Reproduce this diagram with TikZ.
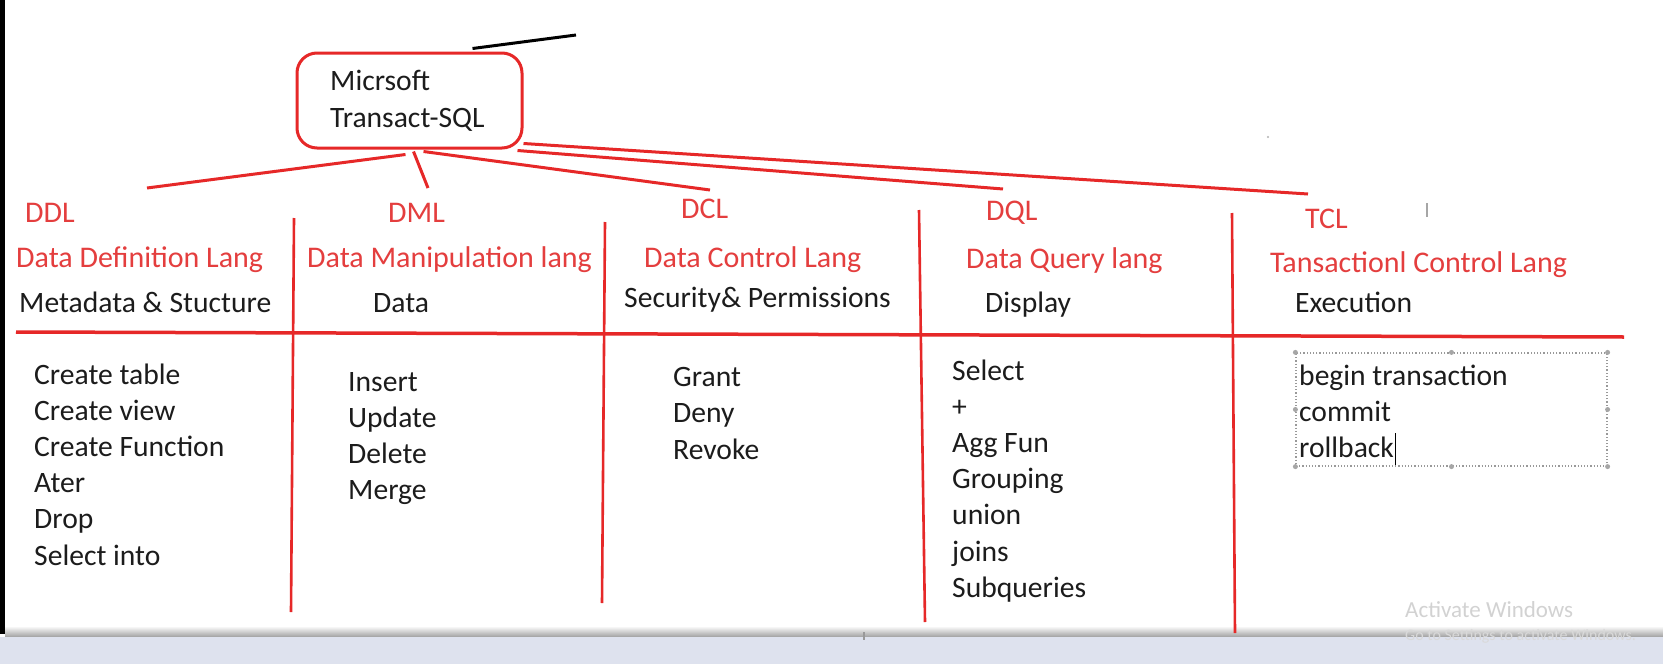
\documentclass[tikz,border=0pt]{standalone}
\usepackage{fontspec}
\setmainfont{Carlito}
\usetikzlibrary{calc}
\definecolor{lred}{RGB}{230,40,40}
\definecolor{tred}{RGB}{228,62,62}
\definecolor{tblk}{RGB}{28,28,28}
\definecolor{bandc}{RGB}{222,226,238}
\begin{document}
\begin{tikzpicture}[x=1pt,y=-1pt,
  redline/.style={draw=lred,line width=3pt},
  colline/.style={draw=lred,line width=2.6pt},
  hdr/.style={anchor=base west,inner sep=0pt,text=tred,font=\fontsize{30}{36}\selectfont},
  item/.style={anchor=base west,inner sep=0pt,text=tblk,font=\fontsize{29.6}{36}\selectfont},
  handle/.style={circle,fill=gray!70,inner sep=0pt,minimum size=5pt}]
\useasboundingbox (0,0) rectangle (1663,664);
\fill[white] (0,0) rectangle (1663,664);
% screen frame
\fill[black] (0,0) rectangle (5,634);
\shade[top color=white,bottom color=gray!75] (5,626) rectangle (1663,637);
\fill[bandc] (0,637) rectangle (1663,664);
\fill[gray!80] (863,632) rectangle (865,640);

% root
\node[draw=lred,line width=3pt,rounded corners=20pt,minimum width=225pt,minimum height=95pt,inner sep=0pt] (root) at (409.5,100.5) {};
\node[item] (rootA) at (330,90) {Micrsoft};
\node[item] (rootB) at (330,127) {Transact-SQL};
\coordinate (blk) at (576,35);
\draw[black,line width=3pt] ($(root.north)+(63,-3)$) -- (blk);

% branch ends
\coordinate (eDDL) at (147,188);
\coordinate (eDML) at (428,188);
\coordinate (eDCL) at (710,190);
\coordinate (eDQL) at (1003,189);
\coordinate (eTCL) at (1308,194);
\draw[redline] ($(root.south)+(-4,5)$) -- (eDDL);
\draw[redline] ($(root.south)+(4,2)$) -- (eDML);
\draw[redline] ($(root.south)+(14,2)$) -- (eDCL);
\draw[redline] ($(root.south east)+(-6,1)$) -- (eDQL);
\draw[redline] ($(root.south east)+(0,-6)$) -- (eTCL);

% header row
\node[hdr] (ddl) at (25,222) {DDL};
\node[hdr] (ddlN) at (16,267) {Data Definition Lang};
\node[item] (ddlD) at (19,312) {Metadata \& Stucture};
\node[hdr] (dml) at (388,222) {DML};
\node[hdr] (dmlN) at (307,267) {Data Manipulation lang};
\node[item] (dmlD) at (373,312) {Data};
\node[hdr] (dcl) at (681,218) {DCL};
\node[hdr] (dclN) at (644,267) {Data Control Lang};
\node[item] (dclD) at (624,307) {Security\& Permissions};
\node[hdr] (dql) at (986,220) {DQL};
\node[hdr] (dqlN) at (966,268) {Data Query lang};
\node[item] (dqlD) at (985,312) {Display};
\node[hdr] (tcl) at (1305,228) {TCL};
\node[hdr] (tclN) at (1270,272) {Tansactionl Control Lang};
\node[item] (tclD) at (1295,312) {Execution};

% grid lines
\coordinate (hL) at (16,332);
\coordinate (hR) at (1624,337);
\draw[draw=lred,line width=3.5pt] (hL) -- (hR);
\coordinate (v1t) at (294,218); \coordinate (v1b) at (291,612);
\coordinate (v2t) at (605,222); \coordinate (v2b) at (602,603);
\coordinate (v3t) at (919,210); \coordinate (v3b) at (925,622);
\coordinate (v4t) at (1232,213); \coordinate (v4b) at (1235,633);
\draw[colline] (v1t) -- (v1b);
\draw[colline] (v2t) -- (v2b);
\draw[colline] (v3t) -- (v3b);
\draw[colline] (v4t) -- (v4b);

% items
\foreach \t [count=\i] in {Create table,Create view,Create Function,Ater,Drop,Select into}
  \node[item] (ddl\i) at ({34},{384+36.2*(\i-1)}) {\t};
\foreach \t [count=\i] in {Insert,Update,Delete,Merge}
  \node[item] (dml\i) at ({348},{391+36*(\i-1)}) {\t};
\foreach \t [count=\i] in {Grant,Deny,Revoke}
  \node[item] (dcl\i) at ({673},{386+36.5*(\i-1)}) {\t};
\foreach \t [count=\i] in {Select,+,Agg Fun,Grouping,union,joins,Subqueries}
  \node[item] (dql\i) at ({952},{380+36.2*(\i-1)}) {\t};
\foreach \t [count=\i] in {begin transaction,commit,rollback}
  \node[item] (tcl\i) at ({1299},{385+36*(\i-1)}) {\t};

% selected text box
\node[draw=gray!80,dotted,line width=1.2pt,minimum width=311pt,minimum height=113pt,inner sep=0pt] (tclbox) at (1451.5,409.5) {};
\foreach \a in {north west,north,north east,west,east,south west,south,south east}
  \node[handle] at (tclbox.\a) {};
\draw[black,line width=1pt] ($(tcl3.base east)+(1,8)$) -- ($(tcl3.base east)+(1,-24)$);

% small marks
\draw[gray!70,line width=1.2pt] (1427,203) -- (1427,217);
\fill[gray!60] (1268,137) circle (1.2pt);

% watermark
\node[anchor=base west,inner sep=0pt,text=gray!35,font=\fontsize{23}{23}\selectfont] (wm1) at (1405,617) {Activate Windows};
\node[anchor=base west,inner sep=0pt,text=gray!30,font=\fontsize{16}{16}\selectfont] (wm2) at (1405,640) {Go to Settings to activate Windows.};
\end{tikzpicture}
\end{document}
